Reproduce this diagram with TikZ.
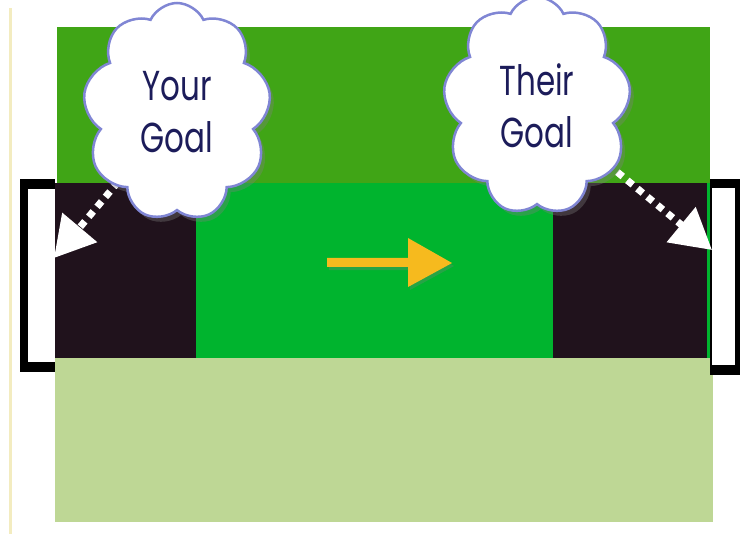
\documentclass[tikz,border=0pt]{standalone}
\usepackage{fontspec}
\usepackage{graphicx}
\setmainfont{Poppins}
\usetikzlibrary{shapes.symbols, arrows.meta, shadows}
\pgfdeclarelayer{back}
\pgfdeclarelayer{mid}
\pgfsetlayers{back,mid,main}

\definecolor{fieldtop}{RGB}{64,165,22}
\definecolor{fieldmid}{RGB}{0,180,46}
\definecolor{goaldark}{RGB}{32,18,28}
\definecolor{fieldlow}{RGB}{190,215,149}
\definecolor{cloudedge}{RGB}{128,134,212}
\definecolor{textnavy}{RGB}{28,28,90}
\definecolor{arrowgold}{RGB}{246,186,30}
\definecolor{creamline}{RGB}{243,236,192}

\newcommand{\narrow}[1]{\scalebox{0.74}[1]{#1}}

\tikzset{
  thought/.style={cloud, cloud puffs=9, cloud puff arc=130, cloud ignores aspect,
    minimum width=188bp, minimum height=218bp, fill=white, draw=cloudedge,
    line width=2.5bp, text=textnavy, align=center, inner sep=0pt,
    font=\fontsize{42}{52}\selectfont,
    drop shadow={opacity=0.35, shadow xshift=4bp, shadow yshift=-5bp}},
  goalarrow/.style={white, line width=7bp, dash pattern=on 7bp off 6bp,
    -{Triangle[length=40bp,width=44bp]}},
}

\begin{document}
\begin{tikzpicture}[x=1bp, y=-1bp]
\useasboundingbox (0,0) rectangle (740,534);

\begin{pgfonlayer}{back}
  \fill[white] (0,0) rectangle (740,534);
  \fill[creamline] (9,8) rectangle (12,534);
  % field bands
  \fill[fieldtop] (57,27) rectangle (710,184);
  \fill[fieldmid] (57,183) rectangle (712,359);
  \fill[fieldlow] (55,358) rectangle (713,522);
  % dark goal areas
  \fill[goaldark] (55,183) rectangle (196,358);
  \fill[goaldark] (553,183) rectangle (707,358);
  % left goal frame
  \fill[black] (20,179) rectangle (55,372);
  \fill[white] (28,189) rectangle (55,362);
  % right goal frame
  \fill[black] (710,179) rectangle (742,375);
  \fill[white] (712,188) rectangle (735,365);
  % direction arrow
  \fill[arrowgold, drop shadow={opacity=0.3, shadow xshift=2bp, shadow yshift=-3bp}]
    (327,258) -- (408,258) -- (408,238) -- (452,263) -- (408,287) -- (408,267) -- (327,267) -- cycle;
\end{pgfonlayer}

\node[thought] (cloudL) at (177,112) {\narrow{Your}\\\narrow{Goal}};
\node[thought] (cloudR) at (537,106) {\narrow{Their}\\\narrow{Goal}};

\coordinate (tipL) at (54,258);
\coordinate (tipR) at (712,250);

\begin{pgfonlayer}{mid}
  \draw[goalarrow] (cloudL.center) -- (tipL);
  \draw[goalarrow] (cloudR.center) -- (tipR);
\end{pgfonlayer}
\end{tikzpicture}
\end{document}
